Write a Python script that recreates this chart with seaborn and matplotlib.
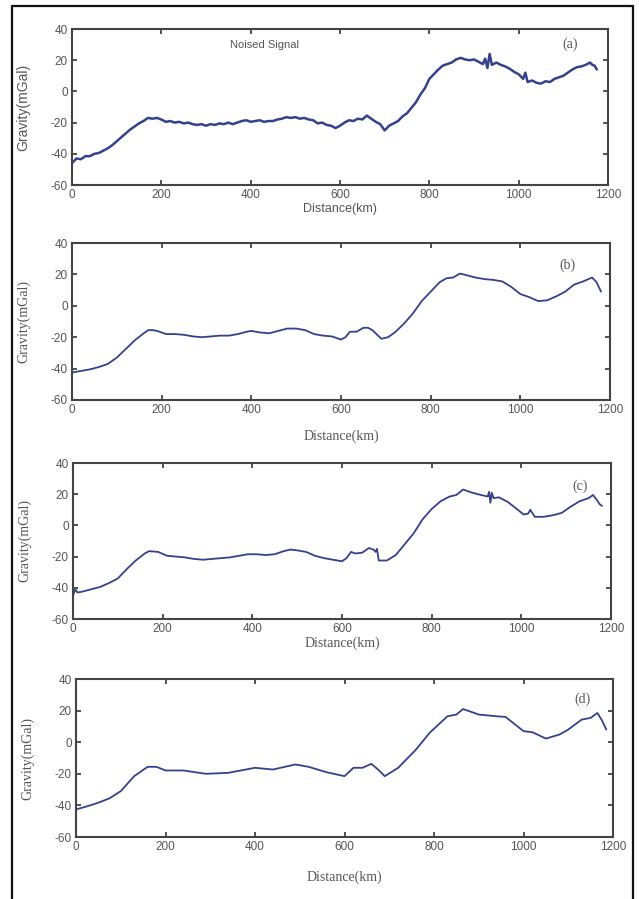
import matplotlib
matplotlib.use("Agg")
import matplotlib.pyplot as plt
import seaborn as sns
import pandas as pd
from matplotlib.lines import Line2D

# ---------------- data ----------------
x_a = [0, 10, 20, 30, 40, 50, 60, 70, 80, 90, 100, 110, 120, 130, 140, 150, 160, 170, 180, 190,
       200, 210, 220, 230, 240, 250, 260, 270, 280, 290, 300, 310, 320, 330, 340, 350, 360, 370, 380, 390,
       400, 410, 420, 430, 440, 450, 460, 470, 480, 490, 500, 510, 520, 530, 540, 550, 560, 570, 580, 590,
       600, 610, 620, 630, 640, 650, 660, 670, 680, 690, 700, 710, 720, 730, 740, 750, 760, 770, 780, 790,
       800, 810, 820, 830, 840, 850, 860, 870, 880, 890, 900, 910, 920, 925, 930, 935, 940, 950, 960, 970,
       980, 990, 1000, 1010, 1015, 1020, 1030, 1040, 1050, 1060, 1070, 1080, 1090, 1100, 1110, 1120, 1130,
       1140, 1150, 1160, 1165, 1170, 1175]
g_a = [-46, -43, -43.5, -41.5, -41.5, -40, -39.5, -38, -36.5, -34.5, -32, -29.5, -27, -24.5, -22.5, -20.5, -19, -17, -17.5, -17,
       -18, -19.5, -19, -20, -19.5, -20.5, -20, -21, -21.5, -21, -22, -21, -21.5, -20.5, -21, -20, -21, -20, -19, -18.5,
       -19.5, -19, -18.5, -19.5, -19, -19, -18, -17.5, -16.5, -17, -16.5, -17.5, -17, -18, -18.5, -20.5, -20, -21.5, -22, -23.5,
       -22, -20, -18.5, -19, -17.5, -18, -15.5, -17.5, -19.5, -21, -25, -22, -20.5, -19, -16, -14, -10.5, -7, -2, 2,
       8, 11, 14, 16.5, 17.5, 18.5, 20.5, 21.5, 20.5, 20, 20.5, 19, 17.5, 21, 15, 24, 17, 18.5, 17, 16,
       14.5, 12.5, 11, 8, 12, 6, 7, 5.5, 5, 6.5, 6, 8, 9, 10, 12, 14, 15.5,
       16, 17, 18.5, 17, 16.5, 14]

x_b = [0, 10, 20, 40, 60, 80, 100, 120, 140, 160, 170, 180, 190, 210, 230, 250, 270, 290, 310, 330,
       350, 370, 390, 400, 420, 440, 460, 480, 500, 520, 540, 560, 580, 600, 610, 620, 635, 650, 660, 670,
       690, 705, 720, 740, 760, 780, 800, 820, 835, 850, 865, 880, 900, 920, 940, 960, 980, 1000, 1020, 1040,
       1060, 1080, 1100, 1120, 1140, 1160, 1170, 1180]
g_b = [-42.5, -42, -41.5, -40.5, -39, -37, -33, -27.5, -22, -17.5, -15.5, -15.5, -16, -18, -18, -18.5, -19.5, -20, -19.5, -19,
       -19, -18, -16.5, -16, -17, -17.5, -16, -14.5, -14.5, -15.5, -18, -19, -19.5, -21.5, -20, -16.5, -16.5, -14, -14, -15.5,
       -21, -20, -17, -11.5, -5, 3, 9, 15, 17.5, 18, 20.5, 19.5, 18, 17, 16.5, 15.5, 12, 7.5, 5.5, 3,
       3.5, 6, 9, 13.5, 15.5, 18, 15, 9]

x_c = [0, 5, 10, 20, 40, 60, 80, 100, 120, 140, 160, 170, 190, 210, 230, 250, 270, 290, 310, 330,
       350, 370, 390, 410, 430, 450, 470, 485, 500, 520, 540, 560, 580, 600, 610, 620, 630, 645, 660, 670,
       675, 678, 682, 700, 720, 740, 760, 780, 800, 820, 840, 855, 870, 890, 910, 925, 928, 931, 934, 938,
       950, 970, 990, 1005, 1015, 1020, 1030, 1050, 1070, 1090, 1110, 1130, 1150, 1160, 1168, 1175, 1180]
g_c = [-45, -41, -43, -42.5, -41, -39.5, -37, -34, -28, -22.5, -18, -16.5, -17, -19.5, -20, -20.5, -21.5, -22, -21.5, -21,
       -20.5, -19.5, -18.5, -18.5, -19, -18.5, -16.5, -15.5, -16, -17, -19.5, -21, -22, -23, -21, -17, -18, -17.5, -14.5, -15.5,
       -17, -15, -22.5, -22.5, -19, -12, -5, 4, 10.5, 15.5, 18.5, 19.5, 23, 21, 19.5, 18.5, 21.5, 14.5, 21, 17.5,
       18, 15, 10.5, 7, 7.5, 10, 5.5, 5.5, 6.5, 8, 12, 15.5, 17.5, 19.5, 16.5, 13.5, 12.5]

x_d = [0, 20, 50, 75, 100, 130, 160, 180, 200, 240, 290, 340, 400, 440, 490, 520, 560, 600, 620, 640,
       660, 675, 690, 720, 760, 790, 830, 850, 865, 900, 940, 960, 1000, 1020, 1050, 1080, 1100, 1130, 1150,
       1165, 1175, 1185]
g_d = [-42.5, -41, -38.3, -35.5, -31, -21.5, -15.6, -15.6, -17.9, -17.9, -20, -19.4, -16.2, -17.3, -14.1, -15.6, -19, -21.5, -16.2, -16.2,
       -13.7, -17.3, -21.5, -16.2, -4.6, 5.9, 16.4, 17.5, 21, 17.5, 16.4, 16, 7, 6.3, 2.3, 4.8, 8, 14.3, 15.4,
       18.5, 14, 8]

panel_tags = ["(a)", "(b)", "(c)", "(d)"]
x_ticks = [0, 200, 400, 600, 800, 1000, 1200]
y_ticks = [-60, -40, -20, 0, 20, 40]
note_text = "Noised Signal"
x_label = "Distance(km)"
y_label = "Gravity(mGal)"

# ---------------- figure ----------------
sns.set_style("ticks")
plt.rcParams["font.family"] = ["Liberation Sans Narrow", "Liberation Sans", "DejaVu Sans"]
plt.rcParams["axes.unicode_minus"] = False

fig = plt.figure(figsize=(6.39, 8.99), dpi=100)
W, H = 639.0, 899.0
# axes boxes in pixels: left, right, top, bottom
boxes = [(72, 608, 29, 185), (72, 610, 243, 400), (73, 611, 463, 619), (76, 613, 679, 837)]
xlab_top = [-0.115, -0.185, -0.115, -0.215]
tag_pos = [(1115, 30), (1104, 26), (1132, 25), (1131, 27)]
series = [(x_a, g_a), (x_b, g_b), (x_c, g_c), (x_d, g_d)]
line_color = "#34428c"
text_gray = "#555555"

for i, ((l, r, t, b), (xs, ys)) in enumerate(zip(boxes, series)):
    ax = fig.add_axes([l / W, 1 - b / H, (r - l) / W, (b - t) / H])
    df = pd.DataFrame({"Distance": xs, "Gravity": ys})
    sns.lineplot(data=df, x="Distance", y="Gravity", ax=ax, color=line_color,
                 lw=1.8 if i == 0 else 1.3, estimator=None, sort=False)
    ax.set_xlim(0, 1200)
    ax.set_ylim(-60, 40)
    ax.set_xticks(x_ticks)
    ax.set_yticks(y_ticks)
    ax.tick_params(direction="in", top=True, right=True, length=3.5, width=1.2,
                   labelsize=8.5, labelcolor=text_gray, color="#333333", pad=3)
    for s in ax.spines.values():
        s.set_linewidth(1.5)
        s.set_color("#444444")
    if i == 0:
        ax.set_xlabel(x_label, fontsize=9, color=text_gray, family=["Liberation Sans", "DejaVu Sans"])
        ax.set_ylabel(y_label, fontsize=10, color=text_gray, family=["Liberation Sans Narrow", "Liberation Sans"])
        ax.text(432, 30, note_text, fontsize=8, color=text_gray, ha="center", va="center",
                family=["Liberation Sans", "DejaVu Sans"])
    else:
        ax.set_xlabel(x_label, fontsize=10, color=text_gray, family=["Liberation Serif", "DejaVu Serif"])
        ax.set_ylabel(y_label, fontsize=10, color=text_gray, family=["Liberation Serif", "DejaVu Serif"])
    ax.xaxis.set_label_coords(0.5, xlab_top[i])
    ax.yaxis.set_label_coords(-0.078, 0.5)
    tx, ty = tag_pos[i]
    ax.text(tx, ty, panel_tags[i], fontsize=10, color=text_gray, ha="center", va="center",
            family=["Liberation Serif", "DejaVu Serif"])

# outer frame (left, top, right)
fl, fr, ft = 12 / W, 633 / W, 1 - 6 / H
for xs_, ys_ in [([fl, fl], [0, ft]), ([fl, fr], [ft, ft]), ([fr, fr], [ft, 0])]:
    fig.add_artist(Line2D(xs_, ys_, transform=fig.transFigure, color="#111111", lw=1.6))

fig.savefig("out.png", dpi=100, facecolor="white")
